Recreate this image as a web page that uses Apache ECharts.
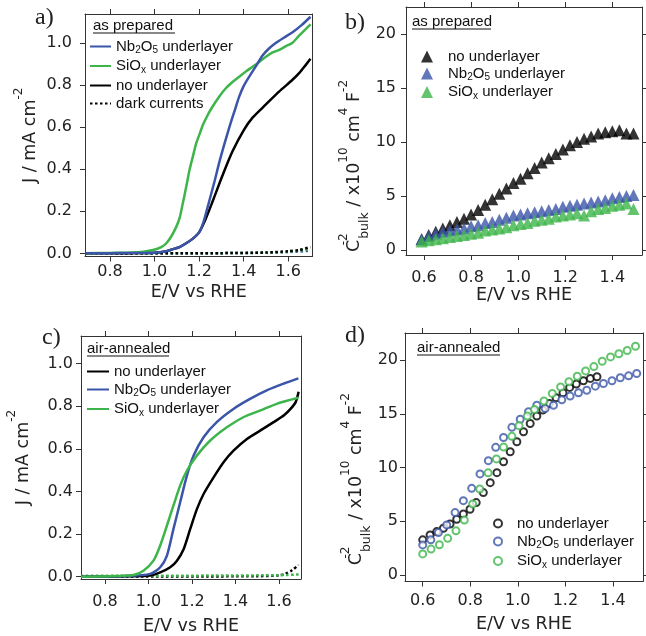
<!DOCTYPE html>
<html>
<head>
<meta charset="utf-8">
<script src="https://cdn.jsdelivr.net/npm/echarts@6/dist/echarts.min.js"></script>
<style>
  html, body { margin: 0; padding: 0; background: #fff; }
  #main { width: 646px; height: 636px; }
</style>
</head>
<body>
<div id="main"></div>
<script>
// colours
var BLACK = '#000000', BLUE = '#3b55a8', GREEN = '#3db54a', AX = '#333333';
var FONT = 'DejaVu Sans', LEG = 'Liberation Sans';

// tick values
var xTicksAC = [0.8, 1.0, 1.2, 1.4, 1.6];
var yTicksAC = [0.0, 0.2, 0.4, 0.6, 0.8, 1.0];
var xTicksBD = [0.6, 0.8, 1.0, 1.2, 1.4];
var yTicksBD = [0, 5, 10, 15, 20];

// a) as prepared, J-V curves  [E, J]
var aNb = [[0.69,0],[0.8,0.001],[0.9,0.002],[1.0,0.003],[1.053,0.01],[1.083,0.02],[1.112,0.03],[1.142,0.048],[1.172,0.07],[1.2,0.1],[1.22,0.15],[1.246,0.25],[1.27,0.345],[1.29,0.43],[1.315,0.525],[1.336,0.6],[1.36,0.68],[1.38,0.745],[1.4,0.795],[1.425,0.84],[1.455,0.89],[1.484,0.94],[1.515,0.975],[1.544,1.0],[1.58,1.025],[1.618,1.05],[1.66,1.085],[1.7,1.125]];
var aSi = [[0.69,0],[0.8,0.002],[0.9,0.004],[0.95,0.008],[0.994,0.016],[1.03,0.03],[1.053,0.048],[1.075,0.08],[1.098,0.127],[1.113,0.17],[1.127,0.238],[1.142,0.315],[1.157,0.396],[1.172,0.46],[1.187,0.523],[1.205,0.575],[1.217,0.61],[1.24,0.66],[1.26,0.697],[1.29,0.745],[1.32,0.785],[1.35,0.815],[1.38,0.84],[1.41,0.865],[1.44,0.887],[1.47,0.91],[1.5,0.935],[1.53,0.955],[1.56,0.967],[1.59,0.985],[1.618,1.0],[1.65,1.036],[1.7,1.089]];
var aNo = [[0.69,0],[0.9,0.001],[1.0,0.003],[1.053,0.01],[1.083,0.02],[1.112,0.03],[1.142,0.048],[1.172,0.07],[1.2,0.1],[1.23,0.165],[1.26,0.245],[1.305,0.37],[1.35,0.485],[1.40,0.585],[1.44,0.645],[1.5,0.708],[1.56,0.77],[1.618,0.824],[1.65,0.858],[1.678,0.895],[1.7,0.925]];
var aDarkNo = [[0.69,0],[1.3,0.001],[1.5,0.004],[1.6,0.01],[1.65,0.016],[1.7,0.03]];
var aDarkNb = [[0.69,0],[1.3,0.001],[1.5,0.003],[1.6,0.006],[1.7,0.012]];
var aDarkSi = [[0.69,0],[1.3,0.001],[1.5,0.003],[1.6,0.008],[1.7,0.02]];

// b) as prepared, Mott-Schottky  (shared potentials)
var bV = [0.59,0.62,0.65,0.68,0.71,0.74,0.77,0.80,0.83,0.86,0.89,0.92,0.95,0.98,1.01,1.04,1.07,1.10,1.13,1.16,1.19,1.22,1.25,1.28,1.31,1.34,1.37,1.40,1.43,1.46,1.49];
var bNo = [1.0,1.4,1.7,2.0,2.3,2.6,2.9,3.3,3.7,4.2,4.7,5.2,5.7,6.2,6.6,7.1,7.6,8.1,8.5,8.9,9.3,9.7,10.0,10.3,10.5,10.8,10.9,11.0,11.1,10.8,10.8];
var bNb = [1.0,1.3,1.5,1.7,1.8,1.9,2.0,2.2,2.3,2.5,2.6,2.8,3.0,3.2,3.3,3.4,3.5,3.6,3.7,3.8,4.0,4.1,4.2,4.3,4.4,4.5,4.6,4.8,4.9,5.0,5.1];
var bSi = [0.8,0.9,1.0,1.1,1.2,1.3,1.4,1.5,1.6,1.8,1.9,2.0,2.1,2.3,2.4,2.5,2.7,2.8,2.9,3.1,3.2,3.3,3.4,3.2,3.6,3.8,3.9,4.1,4.2,4.3,3.8];

// c) air-annealed, J-V curves
var cNo = [[0.69,0],[0.9,0.002],[1.008,0.005],[1.054,0.02],[1.1,0.044],[1.131,0.075],[1.162,0.13],[1.192,0.224],[1.223,0.318],[1.254,0.389],[1.3,0.467],[1.346,0.538],[1.392,0.592],[1.454,0.647],[1.515,0.686],[1.577,0.726],[1.623,0.757],[1.654,0.788],[1.677,0.82],[1.69,0.867]];
var cNb = [[0.69,0],[0.9,0.003],[1.008,0.013],[1.054,0.044],[1.085,0.099],[1.115,0.224],[1.146,0.35],[1.177,0.475],[1.208,0.569],[1.254,0.655],[1.315,0.726],[1.392,0.788],[1.469,0.835],[1.546,0.875],[1.623,0.906],[1.689,0.93]];
var cSi = [[0.69,0],[0.85,0.003],[0.931,0.008],[0.977,0.028],[1.023,0.075],[1.054,0.146],[1.085,0.24],[1.115,0.334],[1.146,0.428],[1.177,0.498],[1.223,0.569],[1.285,0.64],[1.362,0.702],[1.438,0.749],[1.515,0.78],[1.592,0.812],[1.689,0.839]];
var cDarkNo = [[0.69,0],[1.5,0.002],[1.6,0.006],[1.63,0.014],[1.66,0.03],[1.69,0.055]];
var cDarkSi = [[0.69,0.004],[1.3,0.005],[1.6,0.007],[1.69,0.01]];

// d) air-annealed, Mott-Schottky  [E, C^-2]
var dNo = [[0.6,3.26],[0.631,3.72],[0.659,4.03],[0.687,4.34],[0.715,4.74],[0.743,5.18],[0.771,5.67],[0.799,6.11],[0.825,6.73],[0.855,7.66],[0.884,8.59],[0.912,9.52],[0.94,10.54],[0.968,11.47],[0.996,12.4],[1.024,13.33],[1.052,14.1],[1.08,14.8],[1.105,15.35],[1.133,15.97],[1.161,16.5],[1.19,16.96],[1.218,17.46],[1.246,17.77],[1.276,18.08],[1.305,18.3],[1.333,18.45]];
var dNb = [[0.6,2.79],[0.634,3.26],[0.666,3.94],[0.701,4.65],[0.736,5.8],[0.771,6.91],[0.806,8.06],[0.841,9.4],[0.876,10.64],[0.907,11.88],[0.94,12.8],[0.975,13.74],[1.01,14.5],[1.045,15.2],[1.08,15.8],[1.115,15.5],[1.15,15.8],[1.185,16.3],[1.22,16.65],[1.255,16.96],[1.29,17.2],[1.326,17.58],[1.36,17.83],[1.396,18.08],[1.431,18.36],[1.466,18.54],[1.5,18.76]];
var dSi = [[0.6,1.95],[0.635,2.4],[0.67,2.8],[0.705,3.4],[0.74,4.1],[0.775,5.1],[0.81,6.6],[0.84,8.0],[0.875,9.5],[0.91,10.8],[0.94,11.9],[0.975,12.9],[1.005,13.9],[1.04,14.8],[1.07,15.4],[1.11,16.2],[1.145,16.9],[1.18,17.5],[1.215,18.0],[1.25,18.5],[1.285,19.0],[1.32,19.4],[1.355,19.9],[1.39,20.3],[1.425,20.6],[1.46,20.9],[1.495,21.3]];

var NB = '{n|Nb}{s|2}{n|O}{s|5}{n| underlayer}';
var SI = '{n|SiO}{s|x}{n| underlayer}';
var NO = '{n|no underlayer}';
var legendText = {
  a_nb: NB, a_si: SI, a_no: NO, a_dark: '{n|dark currents}',
  b_no: '{g| }' + NO, b_nb: '{g| }' + NB, b_si: '{g| }' + SI,
  c_no: NO, c_nb: NB, c_si: SI,
  d_no: '{g| }' + NO, d_nb: '{g| }' + NB, d_si: '{g| }' + SI
};

var legRich = {
  n: { fontFamily: LEG, fontSize: 15, color: '#111', lineHeight: 18 },
  s: { fontFamily: LEG, fontSize: 10, color: '#111', lineHeight: 10, verticalAlign: 'bottom' },
  g: { fontSize: 10, width: 10 }
};

var nameRich = {
  n: { fontFamily: FONT, fontSize: 17.5, color: '#222', lineHeight: 34 },
  p: { fontFamily: FONT, fontSize: 12, color: '#222', lineHeight: 12, verticalAlign: 'top' },
  pz: { fontFamily: FONT, fontSize: 12, color: '#222', lineHeight: 12, verticalAlign: 'top', width: 1 },
  b: { fontFamily: FONT, fontSize: 12.5, color: '#222', lineHeight: 19, verticalAlign: 'bottom' }
};
var J_NAME = '{n|J / mA cm}{p|-2}';
var C_NAME = '{n|C}{pz|-2}{b|bulk}{n| / x10}{p|10}{n| cm}{p|4}{n| F}{p|-2}';

function fmt1(v) { return v.toFixed(1); }
function fmt0(v) { return String(Math.round(v)); }

function makeAxes(gi, o) {
  var lab = { fontFamily: FONT, fontSize: 16, color: '#222' };
  var line = { show: true, onZero: false, lineStyle: { color: AX, width: 1 } };
  var xs = [{
    gridIndex: gi, type: 'value', position: 'bottom', min: o.xr[0], max: o.xr[1],
    name: 'E/V vs RHE', nameLocation: 'middle', nameGap: o.xGap,
    nameTextStyle: { fontFamily: FONT, fontSize: 17.5, color: '#222' },
    axisLine: line,
    axisTick: { show: true, length: 5, customValues: o.xt, lineStyle: { color: AX } },
    axisLabel: Object.assign({ customValues: o.xt, formatter: fmt1, margin: o.xMargin }, lab),
    splitLine: { show: false }
  }, {
    gridIndex: gi, type: 'value', position: 'top', min: o.xr[0], max: o.xr[1],
    axisLine: line,
    axisTick: { show: true, length: 5, customValues: o.xt, lineStyle: { color: AX } },
    axisLabel: { show: false }, splitLine: { show: false }
  }];
  var ys = [{
    gridIndex: gi, type: 'value', position: 'left', min: o.yr[0], max: o.yr[1],
    name: o.yName, nameLocation: 'middle', nameGap: o.yGap, nameRotate: 90,
    nameTextStyle: { rich: nameRich, padding: o.yPad || 0 },
    axisLine: line,
    axisTick: { show: true, length: 5, customValues: o.yt, lineStyle: { color: AX } },
    axisLabel: Object.assign({ customValues: o.yt, formatter: o.yFmt, margin: o.yMargin }, lab),
    splitLine: { show: false }
  }, {
    gridIndex: gi, type: 'value', position: 'right', min: o.yr[0], max: o.yr[1],
    axisLine: line,
    axisTick: { show: o.rightTicks, length: 5, customValues: o.yt, lineStyle: { color: AX } },
    axisLabel: { show: false }, splitLine: { show: false }
  }];
  return { x: xs, y: ys };
}

var axA = makeAxes(0, { xr: [0.688, 1.709], yr: [-0.015, 1.138], xt: xTicksAC, yt: yTicksAC, xGap: 27, xMargin: 7, yGap: 38, yMargin: 13, yName: J_NAME, yFmt: fmt1, rightTicks: false });
var axB = makeAxes(1, { xr: [0.5235, 1.526], yr: [-0.46, 22.5], xt: xTicksBD, yt: yTicksBD, xGap: 29, xMargin: 15, yGap: 29, yMargin: 10, yName: C_NAME, yFmt: fmt0, rightTicks: true, yPad: [0, 70, 0, 0] });
var axC = makeAxes(2, { xr: [0.69, 1.701], yr: [-0.011, 1.129], xt: xTicksAC, yt: yTicksAC, xGap: 38, xMargin: 15, yGap: 41, yMargin: 8, yName: J_NAME, yFmt: fmt1, rightTicks: false });
var axD = makeAxes(3, { xr: [0.5255, 1.5265], yr: [-0.62, 22.53], xt: xTicksBD, yt: yTicksBD, xGap: 34, xMargin: 11, yGap: 29, yMargin: 7, yName: C_NAME, yFmt: fmt0, rightTicks: true, yPad: [0, 44, 0, 0] });

function lineS(name, gi, data, color, dotted) {
  return {
    type: 'line', name: name, xAxisIndex: 2 * gi, yAxisIndex: 2 * gi, data: data,
    symbol: 'none', showSymbol: false, smooth: 0.25,
    lineStyle: { color: color, width: 2.5, type: dotted ? [2.5, 2.5] : 'solid' },
    itemStyle: { color: color }
  };
}
function pairs(xs, ys) { return xs.map(function (x, i) { return [x, ys[i]]; }); }
function triS(name, data, color) {
  return { type: 'scatter', name: name, xAxisIndex: 2, yAxisIndex: 2, data: data,
    symbol: 'triangle', symbolSize: 12, itemStyle: { color: color } };
}
function ringS(name, data, color) {
  return { type: 'scatter', name: name, xAxisIndex: 6, yAxisIndex: 6, data: data,
    symbol: 'emptyCircle', symbolSize: 7,
    itemStyle: { color: color, borderColor: color, borderWidth: 2.2 } };
}

function legend(o) {
  var l = {
    orient: 'vertical', left: o.left, top: o.top, itemWidth: o.w, itemHeight: o.h, itemGap: o.gap,
    padding: 0, data: o.data, selectedMode: false,
    formatter: function (n) { return legendText[n]; },
    textStyle: { rich: legRich }
  };
  // line legends: show only the stroke, not a marker
  if (o.lineOnly) l.itemStyle = { opacity: 0 };
  return l;
}

function header(txt, x, y, w) {
  return [
    { type: 'text', x: x, y: y, style: { text: txt, font: '15px "Liberation Sans"', fill: '#111', textVerticalAlign: 'middle' } },
    { type: 'line', shape: { x1: x, y1: y + 7, x2: x + w, y2: y + 7 }, style: { stroke: '#111', lineWidth: 1 } }
  ];
}
function letter(txt, x, y) {
  return { type: 'text', x: x, y: y, style: { text: txt, font: '24px "Liberation Serif"', fill: '#222', textVerticalAlign: 'middle' } };
}

var chart = echarts.init(document.getElementById('main'), null, { renderer: 'canvas' });
var option = {
  animation: false,
  backgroundColor: '#fff',
  grid: [
    { left: 85, top: 14, width: 227.5, height: 242.5 },
    { left: 406, top: 7, width: 236, height: 248 },
    { left: 81, top: 336, width: 220, height: 244 },
    { left: 405, top: 333, width: 238, height: 248.5 }
  ],
  xAxis: axA.x.concat(axB.x, axC.x, axD.x),
  yAxis: axA.y.concat(axB.y, axC.y, axD.y),
  legend: [
    legend({ left: 89, top: 39, w: 21, h: 10, gap: 3, lineOnly: true, data: ['a_nb', 'a_si', 'a_no', 'a_dark'] }),
    legend({ left: 421, top: 49, w: 12, h: 12, gap: 2, data: ['b_no', 'b_nb', 'b_si'] }),
    legend({ left: 86, top: 364, w: 22, h: 10, gap: 3, lineOnly: true, data: ['c_no', 'c_nb', 'c_si'] }),
    legend({ left: 493, top: 516, w: 8, h: 8, gap: 3, data: ['d_no', 'd_nb', 'd_si'] })
  ],
  series: [
    lineS('a_dark_nb', 0, aDarkNb, BLUE, true),
    lineS('a_dark_si', 0, aDarkSi, GREEN, true),
    lineS('a_dark', 0, aDarkNo, BLACK, true),
    lineS('a_no', 0, aNo, BLACK),
    lineS('a_si', 0, aSi, GREEN),
    lineS('a_nb', 0, aNb, BLUE),
    triS('b_no', pairs(bV, bNo), BLACK),
    triS('b_nb', pairs(bV, bNb), BLUE),
    triS('b_si', pairs(bV, bSi), GREEN),
    lineS('c_dark', 2, cDarkNo, BLACK, true),
    lineS('c_dark_si', 2, cDarkSi, GREEN, true),
    lineS('c_no', 2, cNo, BLACK),
    lineS('c_nb', 2, cNb, BLUE),
    lineS('c_si', 2, cSi, GREEN),
    ringS('d_no', dNo, BLACK),
    ringS('d_nb', dNb, BLUE),
    ringS('d_si', dSi, GREEN)
  ],
  graphic: [].concat(
    header('as prepared', 93, 26, 82),
    header('as prepared', 412, 22, 79),
    header('air-annealed', 87, 349, 82),
    header('air-annealed', 417, 348, 83),
    [letter('a)', 35, 18), letter('b)', 345, 23), letter('c)', 42, 338), letter('d)', 345, 336)]
  )
};
chart.setOption(option);
</script>
</body>
</html>
